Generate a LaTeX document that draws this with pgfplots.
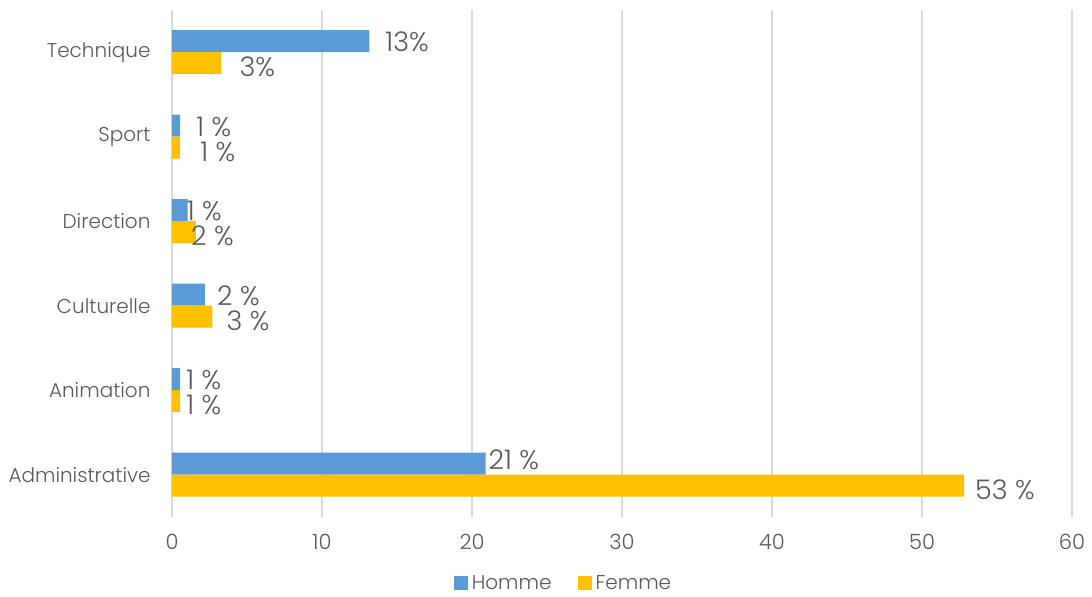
\documentclass[border=0pt]{standalone}
\usepackage{pgfplots}
\pgfplotsset{compat=1.18}
\usepackage{pgfplotstable}
\usepackage{fontspec}
\setmainfont{Poppins Light}
\definecolor{homme}{HTML}{5B9BD5}
\definecolor{femme}{HTML}{FFC000}
\definecolor{txt}{HTML}{595959}
\definecolor{gridc}{HTML}{D9D9D9}

\pgfplotstableread{
y x label off yoff
0 20.9 {21 \%} 3 4
1 0.55 {1 \%} 6 -1
2 2.2 {2 \%} 12 -1
3 1.05 {1 \%} -1 -1
4 0.55 {1 \%} 16 -1
5 13.15 {13\%} 16 -1
}\homme

\pgfplotstableread{
y x label off yoff
0 52.8 {53 \%} 11 -4
1 0.55 {1 \%} 6 -4
2 2.7 {3 \%} 14 -4
3 1.6 {2 \%} -5 -4
4 0.55 {1 \%} 20 -4
5 3.3 {3\%} 18 -4
}\femme

\begin{document}
\begin{tikzpicture}
\begin{axis}[
  scale only axis, width=900pt, height=507pt,
  xbar, xmin=0, xmax=60, ymin=-0.5, ymax=5.5,
  xtick={0,10,...,60}, ytick={0,...,5},
  yticklabels={Administrative,Animation,Culturelle,Direction,Sport,Technique},
  /pgf/number format/assume math mode=true,
  axis line style={draw=none}, major tick length=0pt,
  xmajorgrids, grid style={draw=gridc, line width=1.5pt},
  tick label style={font=\fontsize{21}{25}\selectfont, text=txt},
  yticklabel style={xshift=-18pt, font=\fontsize{20}{24}\selectfont},
  xticklabel style={yshift=-14pt},
  bar width=22pt,
  nodes near coords, point meta=explicit symbolic,
  visualization depends on={\thisrow{off} \as \off},
  visualization depends on={\thisrow{yoff} \as \yoff},
  every node near coord/.append style={anchor=west, xshift=\off pt, yshift=\yoff pt, inner sep=0pt, font=\fontsize{27}{31}\selectfont, text=txt},
  legend style={at={(0.435,-0.13)}, anchor=center, draw=none, legend columns=2, font=\fontsize{20}{24}\selectfont, text=txt, /tikz/every even column/.append style={column sep=24pt}, /tikz/every odd column/.append style={column sep=2pt}},
]
\addplot[draw=none, fill=homme, bar shift=11pt, legend image code/.code={\fill[homme] (0pt,-7pt) rectangle (14pt,7pt);}] table[x=x, y=y, meta=label] {\homme};
\addplot[draw=none, fill=femme, bar shift=-11pt, legend image code/.code={\fill[femme] (0pt,-7pt) rectangle (14pt,7pt);}] table[x=x, y=y, meta=label] {\femme};
\legend{Homme, Femme}
\end{axis}
\pgfresetboundingbox
\path ([shift={(-172pt,-80pt)}]current axis.south west) rectangle ([shift={(20pt,10pt)}]current axis.north east);
\end{tikzpicture}
\end{document}
